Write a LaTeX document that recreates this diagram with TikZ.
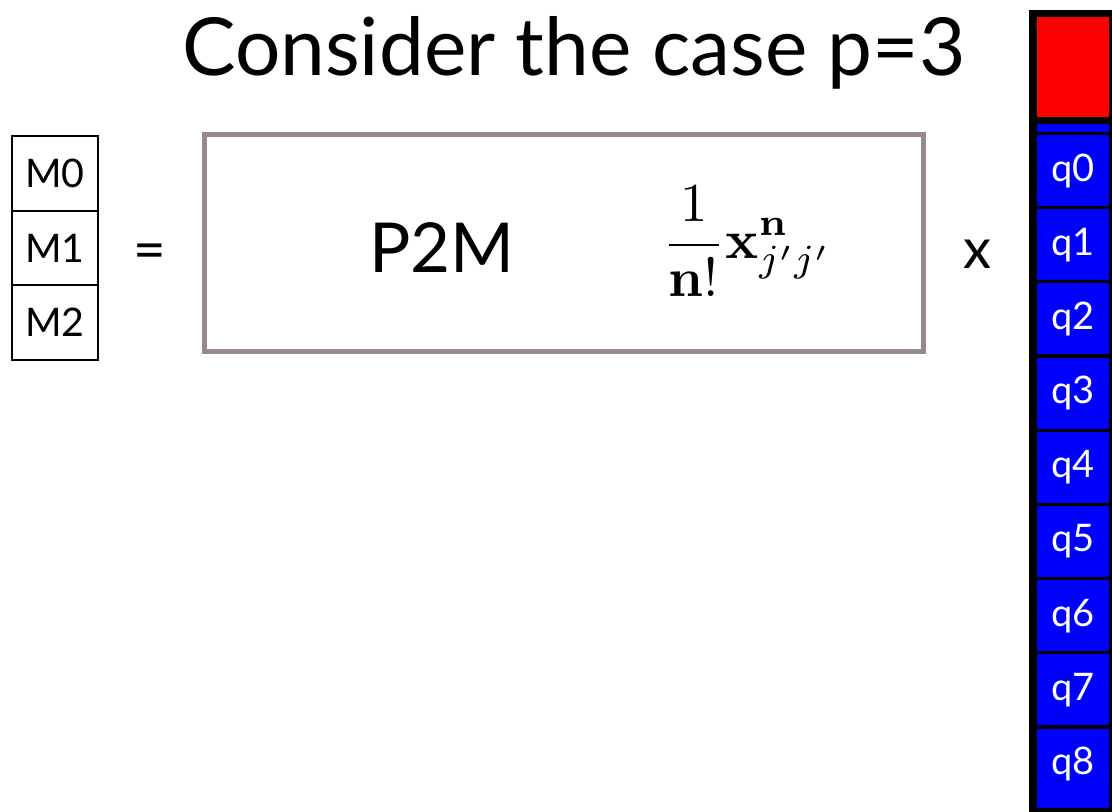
\documentclass[tikz,border=0pt]{standalone}
\usepackage{amsmath}
\usepackage[no-math]{fontspec}
\setmainfont{Lato}
\usepackage{xcolor}
\definecolor{boxgray}{RGB}{152,134,146}
\definecolor{qblue}{RGB}{0,0,255}
\definecolor{qred}{RGB}{255,0,0}
\usetikzlibrary{positioning}

\begin{document}
\begin{tikzpicture}[
  x=0.025cm,y=-0.025cm,
  title/.style={font=\fontsize{57}{62}\selectfont},
  mbox/.style={rectangle,draw,line width=1.6pt,outer sep=0pt,minimum width=2.15cm,minimum height=1.8625cm,font=\fontsize{28}{32}\selectfont},
  opbox/.style={rectangle,draw=boxgray,line width=3.5pt,minimum width=17.95cm,minimum height=5.425cm},
  qbox/.style={rectangle,fill=qblue,inner sep=0pt,minimum width=1.8cm,minimum height=1.775cm,text=white,font=\fontsize{27}{30}\selectfont},
  strip/.style={rectangle,fill=qblue,inner sep=0pt,minimum width=1.8cm,minimum height=0.2cm},
  sign/.style={font=\fontsize{40}{44}\selectfont}
]
  \useasboundingbox (0,0) rectangle (1112,811);

  % Title
  \node[title,anchor=base] (title) at (574,75) {Consider the case p=3};

  % Moments
  \node[mbox] (m0) at (55,173.5) {M0};
  \node[mbox,below=0pt of m0] (m1) {M1};
  \node[mbox,below=0pt of m1] (m2) {M2};

  \node[sign] (eq) at (150,257) {=};

  % P2M operator
  \node[opbox] (p2m) at (564,243) {};
  \node[font=\fontsize{49}{54}\selectfont,anchor=base] (p2mlabel) at (442,272) {P2M};
  \node[scale=3.9,transform shape,inner sep=0pt] (kern) at (747,241)
    {$\displaystyle\frac{1}{\mathbf{n}!}\mathbf{x}^{\mathbf{n}}_{j'j'}$};

  \node[sign] (times) at (977,254) {x};

  % Charges
  \node[fill=black,inner sep=0pt,minimum width=2.075cm,minimum height=20.025cm,anchor=north west] (col) at (1029,10) {};
  \node[fill=qred,inner sep=0pt,minimum width=1.8cm,minimum height=2.5cm] (head) at (1073,67) {};
  \node[strip] (striptop) at (1073,128) {};
  \foreach \i in {0,...,8}
    \node[qbox] (q\i) at (1073,170.5+74.2*\i) {q\i};
  \node[strip] (stripbot) at (1073,804) {};
\end{tikzpicture}
\end{document}
